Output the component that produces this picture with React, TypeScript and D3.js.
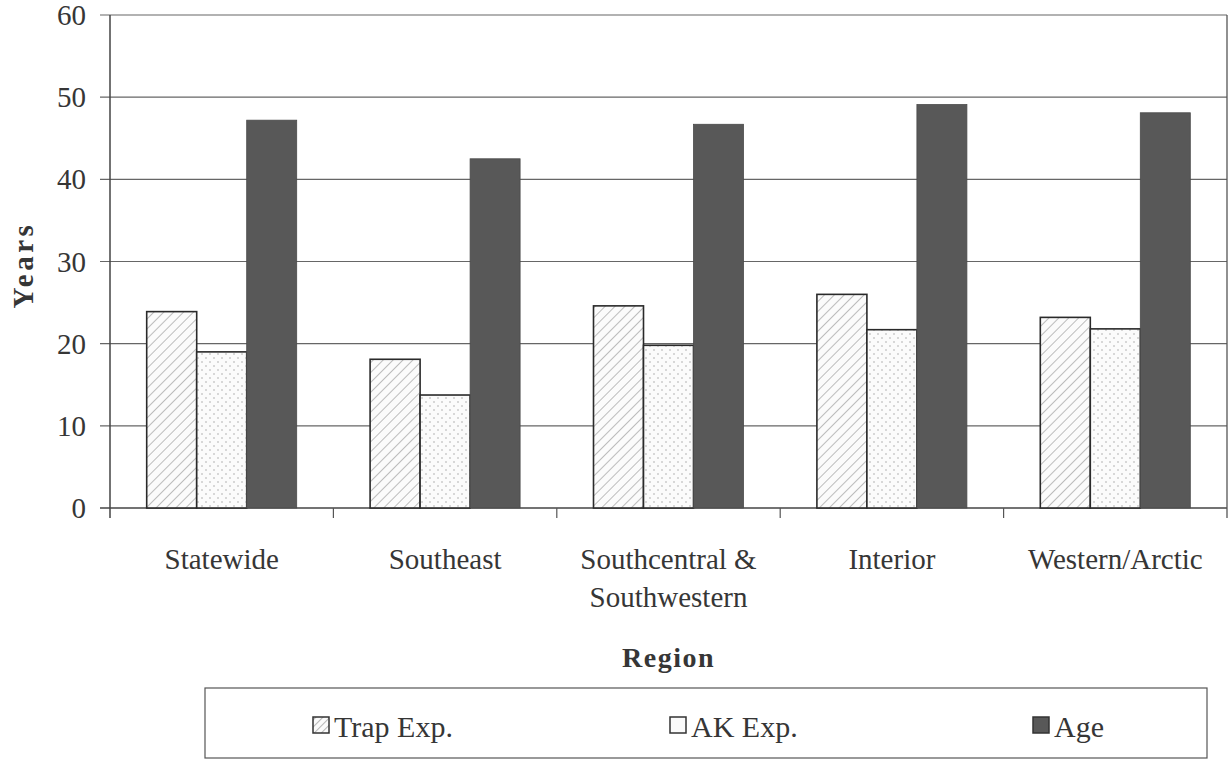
import React from "react";
import * as d3 from "d3";

const regions = ["Statewide", "Southeast", "Southcentral & Southwestern", "Interior", "Western/Arctic"];
const regionLines = [["Statewide"], ["Southeast"], ["Southcentral &", "Southwestern"], ["Interior"], ["Western/Arctic"]];
const seriesNames = ["Trap Exp.", "AK Exp.", "Age"];
const trapExp = [23.9, 18.1, 24.6, 26.0, 23.2];
const akExp = [19.0, 13.75, 19.8, 21.7, 21.8];
const age = [47.2, 42.5, 46.7, 49.1, 48.1];
const yTicks = [0, 10, 20, 30, 40, 50, 60];

const W = 1230, H = 759;
const left = 110, right = 1227, top = 15, bottom = 508;
const FONT = "'Liberation Serif', 'Times New Roman', serif";
const TXT = "#363636";

export default function App() {
  const x = d3.scaleBand<string>().domain(regions).range([left, right]).paddingInner(0).paddingOuter(0);
  const xi = d3.scaleBand<string>().domain(seriesNames).range([0, x.bandwidth()]).paddingInner(0).paddingOuter(0.734);
  const y = d3.scaleLinear().domain([0, 60]).range([bottom, top]);
  const values = [trapExp, akExp, age];
  const fills = ["url(#hatch)", "url(#dots)", "#585858"];
  const strokes = ["#2a2a2a", "#2a2a2a", "#4a4a4a"];
  const boundaries = regions.map((r) => x(r)!).concat([right]);

  const legendItems = [
    { name: "Trap Exp.", sx: 313, fill: "url(#hatchS)" },
    { name: "AK Exp.", sx: 670, fill: "#fafafa" },
    { name: "Age", sx: 1033, fill: "#585858" },
  ];

  return (
    <svg width={W} height={H} style={{ position: "absolute", left: 0, top: 0, background: "#fff" }} fontFamily={FONT}>
      <defs>
        <pattern id="hatch" patternUnits="userSpaceOnUse" width={7} height={7} patternTransform="rotate(45)">
          <rect width={7} height={7} fill="#fbfbfb" />
          <line x1={0} y1={0} x2={0} y2={7} stroke="#9a9a9a" strokeWidth={1.3} />
        </pattern>
        <pattern id="hatchS" patternUnits="userSpaceOnUse" width={5} height={5} patternTransform="rotate(45)">
          <rect width={5} height={5} fill="#fbfbfb" />
          <line x1={0} y1={0} x2={0} y2={5} stroke="#888" strokeWidth={1.2} />
        </pattern>
        <pattern id="dots" patternUnits="userSpaceOnUse" width={8} height={8}>
          <rect width={8} height={8} fill="#fbfbfb" />
          <circle cx={2} cy={2} r={0.8} fill="#aaa" />
          <circle cx={6} cy={6} r={0.8} fill="#aaa" />
        </pattern>
      </defs>

      {/* gridlines */}
      {yTicks.map((t) => (
        <g key={t}>
          <line x1={left - 10} x2={right} y1={y(t)} y2={y(t)} stroke={t === 0 ? "#444" : "#666"} strokeWidth={t === 0 ? 1.6 : 1.2} />
          <text x={86} y={y(t)} dy="0.35em" textAnchor="end" fontSize={29} fill={TXT}>{t}</text>
        </g>
      ))}
      {/* axes box */}
      <line x1={left} x2={left} y1={top} y2={bottom + 10} stroke="#444" strokeWidth={1.5} />
      <line x1={right} x2={right} y1={top} y2={bottom + 10} stroke="#555" strokeWidth={1.3} />
      {boundaries.slice(1, -1).map((bx, i) => (
        <line key={i} x1={bx} x2={bx} y1={bottom} y2={bottom + 10} stroke="#555" strokeWidth={1.2} />
      ))}

      {/* bars */}
      {values.map((vals, si) =>
        regions.map((r, ri) => {
          const bx = x(r)! + xi(seriesNames[si])!;
          const by = y(vals[ri]);
          return (
            <rect key={`${si}-${ri}`} x={bx} y={by} width={xi.bandwidth()} height={bottom - by}
              fill={fills[si]} stroke={strokes[si]} strokeWidth={si === 2 ? 0.8 : 1.6} />
          );
        })
      )}

      {/* category labels */}
      {regions.map((r, ri) => (
        <text key={r} x={x(r)! + x.bandwidth() / 2} y={569} textAnchor="middle" fontSize={29} fill={TXT}>
          {regionLines[ri].map((ln, li) => (
            <tspan key={li} x={x(r)! + x.bandwidth() / 2} dy={li === 0 ? 0 : 38}>{ln}</tspan>
          ))}
        </text>
      ))}

      {/* axis titles */}
      <text x={(left + right) / 2} y={667} textAnchor="middle" fontSize={28} fontWeight="bold" letterSpacing={1.5} fill={TXT}>Region</text>
      <text transform={`translate(33, ${265}) rotate(-90)`} textAnchor="middle" fontSize={29} fontWeight="bold" letterSpacing={3.5} fill={TXT}>Years</text>

      {/* legend */}
      <rect x={205} y={688} width={1002} height={70} fill="#fff" stroke="#555" strokeWidth={1.2} />
      {legendItems.map((it) => (
        <g key={it.name}>
          <rect x={it.sx} y={717} width={16} height={16} fill={it.fill} stroke="#333" strokeWidth={1.5} />
          <text x={it.sx + 21} y={737} fontSize={30} fill={TXT}>{it.name}</text>
        </g>
      ))}
    </svg>
  );
}
